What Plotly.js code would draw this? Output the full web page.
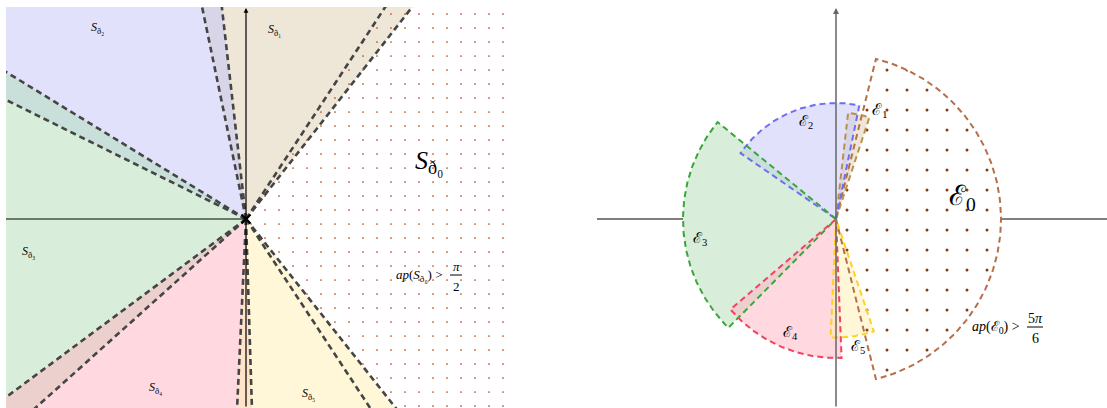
<!DOCTYPE html>
<html><head><meta charset="utf-8">
<script src="https://cdn.plot.ly/plotly-3.0.1.min.js"></script>
<style>html,body{margin:0;padding:0;background:#fff}#c{width:1107px;height:408px}</style>
</head><body><div id="c"></div>
<script>
// ---- Left diagram: sectors S_d0..S_d5 (angles in degrees, counter-clockwise from +x)
const leftNames = ['S_d1', 'S_d2', 'S_d3', 'S_d4', 'S_d5', 'S_d0'];
const leftStart = [51.9, 96.5, 148.5, 216.6, 267.3, -51.6];
const leftEnd   = [101.7, 153.6, 221.9, 271.8, 303.3, 56.7];
const leftExtraRay = [308.4];

// ---- Right diagram: sectors E0..E5 (angles in degrees, radius in units)
const rightNames  = ['E0', 'E1', 'E2', 'E3', 'E4', 'E5'];
const rightStart  = [-76, 71.7, 78.4, 140.7, 220.6, 267.4];
const rightEnd    = [76, 83.5, 145.4, 225.3, 272.3, 288.6];
const rightRadius = [165, 107, 116, 153, 139, 118.5];

// ---- styles
const leftFill  = ['rgba(221,205,173,0.5)','rgba(195,195,249,0.5)','rgba(177,221,181,0.5)','rgba(255,177,193,0.5)','rgba(255,239,177,0.5)', null];
const rightFill = ['#ffffff','rgba(221,205,173,0.5)','rgba(195,195,249,0.5)','rgba(177,221,181,0.5)','rgba(255,177,193,0.5)','rgba(255,239,177,0.5)'];
const rightLine = ['#b5704a','#b8904a','#6e6ef2','#3aa63a','#f5405f','#ffd21f'];
const DASH = '6px,4px';

function sector(r, a1, a2) {
  const xs = [0], ys = [0], n = 120;
  for (let i = 0; i <= n; i++) {
    const a = (a1 + (a2 - a1) * i / n) * Math.PI / 180;
    xs.push(r * Math.cos(a)); ys.push(r * Math.sin(a));
  }
  xs.push(0); ys.push(0);
  return {x: xs, y: ys};
}

const traces = [];
const BIG = 900;
// left fills (yellow sector fills up to the outer ray)
leftNames.forEach((nm, i) => {
  if (!leftFill[i]) return;
  const end = nm === 'S_d5' ? leftExtraRay[0] : leftEnd[i];
  const s = sector(BIG, leftStart[i], end);
  traces.push({type:'scatter', mode:'lines', x:s.x, y:s.y, xaxis:'x', yaxis:'y',
    fill:'toself', fillcolor:leftFill[i], line:{width:0}, hoverinfo:'skip'});
});
// left S_d0 dotted
{
  const i = leftNames.indexOf('S_d0');
  const s = sector(BIG, leftStart[i], leftEnd[i]);
  traces.push({type:'scatter', mode:'lines', x:s.x, y:s.y, xaxis:'x', yaxis:'y',
    fill:'toself', fillcolor:'rgba(0,0,0,0)', line:{width:0}, hoverinfo:'skip',
    fillpattern:{shape:'.', size:14, solidity:0.012, fgcolor:'#b04418', bgcolor:'rgba(0,0,0,0)'}});
}
// left dashed rays
const rays = leftStart.concat(leftEnd).filter(a => a !== -51.6).concat(leftExtraRay);
rays.forEach(a => {
  const t = a * Math.PI / 180;
  traces.push({type:'scatter', mode:'lines', x:[0, BIG * Math.cos(t)], y:[0, BIG * Math.sin(t)],
    xaxis:'x', yaxis:'y', line:{width:2.6, color:'#454545', dash:DASH}, hoverinfo:'skip'});
});
// left horizontal axis (left half)
traces.push({type:'scatter', mode:'lines', x:[-240, 0], y:[0, 0], xaxis:'x', yaxis:'y',
  line:{width:1.2, color:'#000'}, hoverinfo:'skip'});
// left centre mark
traces.push({type:'scatter', mode:'markers', x:[0], y:[0], xaxis:'x', yaxis:'y',
  marker:{symbol:'x-thin', size:9, line:{width:2.2, color:'#000'}}, hoverinfo:'skip'});

// right horizontal axis, outside the sectors
const r0 = rightRadius[0], r3 = rightRadius[3];
traces.push({type:'scatter', mode:'lines', x:[-239, -r3, null, r0, 271], y:[0, 0, null, 0, 0],
  xaxis:'x2', yaxis:'y2', line:{width:1.2, color:'#000'}, hoverinfo:'skip'});
// right fills
rightNames.forEach((nm, i) => {
  const s = sector(rightRadius[i], rightStart[i], rightEnd[i]);
  traces.push({type:'scatter', mode:'lines', x:s.x, y:s.y, xaxis:'x2', yaxis:'y2',
    fill:'toself', fillcolor:rightFill[i], line:{width:0}, hoverinfo:'skip'});
});
// right E0 dotted
{
  const s = sector(rightRadius[0], rightStart[0], rightEnd[0]);
  traces.push({type:'scatter', mode:'lines', x:s.x, y:s.y, xaxis:'x2', yaxis:'y2',
    fill:'toself', fillcolor:'rgba(0,0,0,0)', line:{width:0}, hoverinfo:'skip',
    fillpattern:{shape:'.', size:20, solidity:0.018, fgcolor:'#8b3a10', bgcolor:'rgba(0,0,0,0)'}});
}
// right outlines
rightNames.forEach((nm, i) => {
  const s = sector(rightRadius[i], rightStart[i], rightEnd[i]);
  traces.push({type:'scatter', mode:'lines', x:s.x, y:s.y, xaxis:'x2', yaxis:'y2',
    line:{width:2, color:rightLine[i], dash:DASH}, hoverinfo:'skip'});
});

const F = 'Liberation Serif, DejaVu Serif, serif';
const FR = 'ð';
function ann(text, x, y, size, ax) {
  return {text:text, x:x, y:y, xref:ax[0], yref:ax[1], showarrow:false,
    xanchor:'center', yanchor:'middle', font:{family:F, size:size, color:'#000'}};
}
const L = ['x','y'], R = ['x2','y2'];
const annotations = [
  // axes arrows
  {x:0, y:211, ax:0, ay:-189, xref:'x', yref:'y', axref:'x', ayref:'y', text:'', showarrow:true,
   arrowhead:2, arrowsize:0.8, arrowwidth:1.2, arrowcolor:'#000'},
  {x:0, y:211, ax:0, ay:-189, xref:'x2', yref:'y2', axref:'x2', ayref:'y2', text:'', showarrow:true,
   arrowhead:2, arrowsize:0.8, arrowwidth:1.5, arrowcolor:'#666'},
  // left labels
  ann('<i>S</i><sub>' + FR + '₂</sub>', -149, 191, 12, L),
  ann('<i>S</i><sub>' + FR + '₁</sub>', 28, 189, 12, L),
  ann('<i>S</i><sub>' + FR + '₀</sub>', 183, 57, 26, L),
  ann('<i>S</i><sub>' + FR + '₃</sub>', -218, -33, 12, L),
  ann('<i>S</i><sub>' + FR + '₄</sub>', -91, -169, 12, L),
  ann('<i>S</i><sub>' + FR + '₅</sub>', 62, -175, 12, L),
  ann('<i>ap</i>(<i>S</i><sub>' + FR + '₀</sub>) >', 173, -56, 13, L),
  ann('<i>π</i>', 210, -47, 13, L),
  ann('2', 210, -67, 13, L),
  // right labels
  ann('ℰ<sub>1</sub>', 44, 109, 16, R),
  ann('ℰ<sub>2</sub>', -30, 97, 15, R),
  ann('ℰ<sub>3</sub>', -136, -20, 15, R),
  ann('ℰ<sub>4</sub>', -46, -114, 15, R),
  ann('ℰ<sub>5</sub>', 22, -128, 15, R),
  ann('ℰ<sub>0</sub>', 126, 22, 28, R),
  ann('<i>ap</i>(ℰ<sub>0</sub>) >', 160, -108, 14, R),
  ann('5<i>π</i>', 199, -99, 14, R),
  ann('6', 199, -119, 14, R)
];
const shapes = [
  {type:'line', xref:'x', yref:'y', x0:204, x1:216, y0:-56, y1:-56, line:{width:1, color:'#000'}},
  {type:'line', xref:'x2', yref:'y2', x0:191, x1:207, y0:-108, y1:-108, line:{width:1, color:'#000'}}
];

const layout = {
  width:1107, height:408, margin:{l:0, r:0, t:0, b:0},
  paper_bgcolor:'#fff', plot_bgcolor:'rgba(0,0,0,0)', showlegend:false,
  xaxis:{domain:[6/1107, 513/1107], range:[-240, 267], visible:false, fixedrange:true},
  yaxis:{domain:[0, 401/408], range:[-189, 212], visible:false, fixedrange:true},
  xaxis2:{domain:[597/1107, 1], range:[-239, 271], visible:false, fixedrange:true, anchor:'y2'},
  yaxis2:{domain:[0, 1], range:[-189, 219], visible:false, fixedrange:true, anchor:'x2'},
  annotations:annotations, shapes:shapes
};
Plotly.newPlot('c', traces, layout, {staticPlot:true});
</script>
</body></html>
